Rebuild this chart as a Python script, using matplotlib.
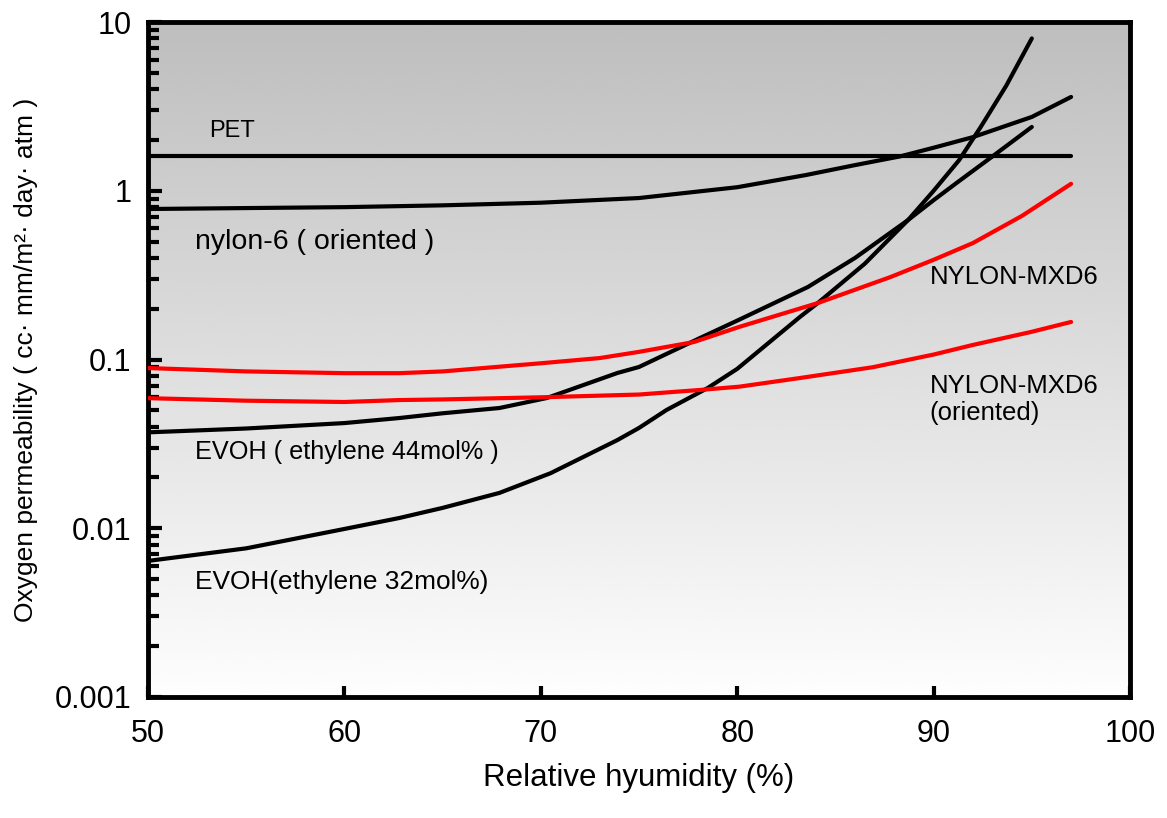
import numpy as np
import matplotlib
matplotlib.use("Agg")
import matplotlib.pyplot as plt
from matplotlib.ticker import LogLocator, FixedLocator, FuncFormatter, NullFormatter

plt.rcParams['font.family'] = ['Liberation Sans', 'DejaVu Sans']

# ---- data ----
pet_x = [50, 97]
pet_y = [1.6, 1.6]

nylon6_x = [50, 55, 60, 65, 70, 75, 80, 83.5, 86, 88.3, 90, 92, 95, 97]
nylon6_y = [0.78, 0.79, 0.80, 0.82, 0.85, 0.906, 1.05, 1.24, 1.42, 1.6, 1.8, 2.08, 2.74, 3.6]

evoh32_x = [50, 55, 60, 62.8, 65, 67.9, 70.5, 73.9, 75, 76.4, 78.5, 80, 83.2, 84.1,
            86.5, 88.7, 90, 91.3, 92.4, 93.7, 95]
evoh32_y = [0.0064, 0.0076, 0.0099, 0.0115, 0.0132, 0.0162, 0.0212, 0.0333, 0.0393, 0.0502,
            0.0678, 0.088, 0.179, 0.216, 0.37, 0.671, 1.0, 1.52, 2.39, 4.2, 8.0]

evoh44_x = [50, 55, 60, 62.8, 65, 67.9, 70.3, 73.9, 75, 78.1, 80, 82.2, 83.6, 86,
            88.7, 90, 91.2, 93, 95]
evoh44_y = [0.037, 0.039, 0.042, 0.045, 0.048, 0.0516, 0.0591, 0.0832, 0.0903, 0.134, 0.17,
            0.225, 0.269, 0.40, 0.671, 0.88, 1.12, 1.6, 2.39]

mxd6_x = [50, 55, 60, 62.8, 65, 70, 73, 75, 77.8, 80.1, 84.1, 87.8, 90, 92, 94.5, 97]
mxd6_y = [0.089, 0.085, 0.083, 0.083, 0.085, 0.095, 0.102, 0.111, 0.127, 0.156, 0.216,
          0.308, 0.39, 0.49, 0.71, 1.1]

mxd6o_x = [50, 55, 60, 62.8, 65, 70, 75, 78.1, 80.1, 83.2, 86.9, 90, 92, 95, 97]
mxd6o_y = [0.059, 0.057, 0.056, 0.0575, 0.058, 0.0597, 0.062, 0.066, 0.069, 0.0777, 0.090,
           0.107, 0.122, 0.146, 0.167]

x_ticks = [50, 60, 70, 80, 90, 100]
y_ticks = [0.001, 0.01, 0.1, 1, 10]
y_tick_labels = ['0.001', '0.01', '0.1', '1', '10']

fig = plt.figure(figsize=(11.67, 8.18), dpi=100)
ax = fig.add_axes([0.1268, 0.148, 0.8415, 0.825])

# grey gradient background, dark at top
grad = np.linspace(0.745, 0.995, 256).reshape(-1, 1)
ax.imshow(grad, extent=[0, 1, 0, 1], origin='upper', transform=ax.transAxes, cmap='gray',
          vmin=0, vmax=1, aspect='auto', zorder=0, interpolation='bicubic')

lw = 3
kw = dict(lw=lw, solid_capstyle='round', solid_joinstyle='round', zorder=3)
ax.plot(pet_x, pet_y, color='black', **kw)
ax.plot(nylon6_x, nylon6_y, color='black', **kw)
ax.plot(evoh32_x, evoh32_y, color='black', **kw)
ax.plot(evoh44_x, evoh44_y, color='black', **kw)
ax.plot(mxd6_x, mxd6_y, color='#ff0000', **kw)
ax.plot(mxd6o_x, mxd6o_y, color='#ff0000', **kw)

ax.set_yscale('log')
ax.set_xlim(50, 100)
ax.set_ylim(0.001, 10)

ax.xaxis.set_major_locator(FixedLocator(x_ticks))
ax.yaxis.set_major_locator(FixedLocator(y_ticks))
ax.yaxis.set_major_formatter(FuncFormatter(lambda v, p: y_tick_labels[y_ticks.index(v)] if v in y_ticks else ''))
ax.yaxis.set_minor_locator(LogLocator(base=10, subs=np.arange(2, 10)))
ax.yaxis.set_minor_formatter(NullFormatter())

ax.tick_params(axis='both', which='both', direction='in', width=3, labelsize=22)
ax.tick_params(axis='x', length=8, pad=16, top=False)
ax.tick_params(axis='y', which='major', length=10, pad=12, right=False)
ax.tick_params(axis='y', which='minor', length=8, right=False)

for s in ax.spines.values():
    s.set_linewidth(3.5)

ax.set_xlabel('Relative hyumidity (%)', fontsize=22.5, labelpad=10)
ax.set_ylabel('Oxygen permeability ( cc· mm/m²· day· atm )', fontsize=19, labelpad=12)

ax.text(53.1, 2.26, 'PET', fontsize=17, va='center')
ax.text(52.4, 0.50, 'nylon-6 ( oriented )', fontsize=20.5, va='center')
ax.text(89.8, 0.31, 'NYLON-MXD6', fontsize=18.5, va='center')
ax.text(89.8, 0.058, 'NYLON-MXD6\n(oriented)', fontsize=18.5, va='center', linespacing=1.2)
ax.text(52.4, 0.0283, 'EVOH ( ethylene 44mol% )', fontsize=18.2, va='center')
ax.text(52.4, 0.0048, 'EVOH(ethylene 32mol%)', fontsize=18.9, va='center')

fig.savefig('out.png', dpi=100)
